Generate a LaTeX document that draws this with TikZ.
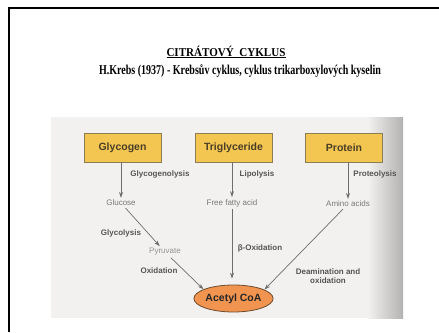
\documentclass[tikz,border=0pt]{standalone}
\usepackage{fontspec}
\setmainfont{Liberation Serif}
\newfontfamily\diagfont{Liberation Sans}
\usetikzlibrary{shapes.geometric,arrows.meta}

\definecolor{paper}{RGB}{243,241,239}
\definecolor{boxfill}{RGB}{243,198,82}
\definecolor{boxline}{RGB}{140,125,85}
\definecolor{boxtext}{RGB}{75,62,38}
\definecolor{lbl}{RGB}{85,85,85}
\definecolor{prod}{RGB}{120,120,120}
\definecolor{flow}{RGB}{110,110,110}
\definecolor{acfill}{RGB}{241,148,80}
\definecolor{acline}{RGB}{110,75,45}

\tikzset{
  source/.style={draw=boxline, line width=0.8pt, fill=boxfill, minimum width=77pt,
    minimum height=29pt, inner sep=0pt, font=\diagfont\fontsize{10.5}{12}\selectfont\bfseries,
    text=boxtext},
  product/.style={font=\diagfont\fontsize{8}{9}\selectfont, text=prod, inner sep=2pt},
  process/.style={font=\diagfont\fontsize{8}{9.5}\selectfont\bfseries, text=lbl,
    inner sep=0pt, align=center},
  flowline/.style={draw=flow, line width=0.7pt,
    -{Stealth[length=6pt,width=4pt]}},
}

\begin{document}
\begin{tikzpicture}[x=1pt,y=-1pt]
\useasboundingbox (0,0) rectangle (439,332);
\fill[white] (0,0) rectangle (439,332);

% page frame
\draw[line width=2pt] (9,332) -- (9,8) -- (439,8);

% heading
\node (title) at (226,52) {\resizebox{119pt}{\height}{\fontsize{12}{14}\selectfont\bfseries\underline{CITRÁTOVÝ\ \ CYKLUS}}};
\node (subtitle) at (240,71) {\resizebox{282pt}{\height}{\fontsize{13.5}{15}\selectfont\bfseries H.Krebs (1937) - Krebsův cyklus, cyklus trikarboxylových kyselin}};

% scanned panel
\fill[paper] (51,117) rectangle (403,318);
\shade[left color=paper, right color=paper!45!gray] (368,117) rectangle (403,318);

% sources
\node[source] (glycogen) at (122.5,147.5) {Glycogen};
\node[source] (trig) at (233.5,147.5) {Triglyceride};
\node[source] (protein) at (344,147.5) {Protein};

% intermediates
\node[product] (glucose) at (121,203) {Glucose};
\node[product] (ffa) at (232,203) {Free fatty acid};
\node[product] (amino) at (348,204) {Amino acids};
\node[product, text=prod!80] (pyruvate) at (165,252) {Pyruvate};

% product
\node[ellipse, draw=acline, line width=0.8pt, fill=acfill, minimum width=75pt,
  minimum height=27pt, inner sep=0pt, font=\diagfont\fontsize{10.5}{12}\selectfont\bfseries,
  text=black!85] (acetyl) at (233.5,298.5) {Acetyl CoA};

% pathways
\draw[flowline] (glycogen.south -| glucose) -- (glucose.north);
\draw[flowline] (trig.south -| ffa) -- (ffa.north);
\draw[flowline] (protein.south -| amino) -- (amino.north);
\draw[flowline] (glucose) -- (pyruvate);
\draw[flowline] (pyruvate) -- (acetyl.163);
\draw[flowline, shorten >=6pt] (ffa.south) -- (ffa.south |- acetyl.north);
\draw[flowline] (amino) -- (acetyl.16);

% process labels
\node[process] (l1) at (160,174) {Glycogenolysis};
\node[process] (l2) at (257,174) {Lipolysis};
\node[process] (l3) at (375,174) {Proteolysis};
\node[process] (l4) at (121,233) {Glycolysis};
\node[process] (l5) at (159,271) {Oxidation};
\node[process] (l6) at (260,248) {β-Oxidation};
\node[process] (l7) at (328,276) {Deamination and\\oxidation};
\end{tikzpicture}
\end{document}
